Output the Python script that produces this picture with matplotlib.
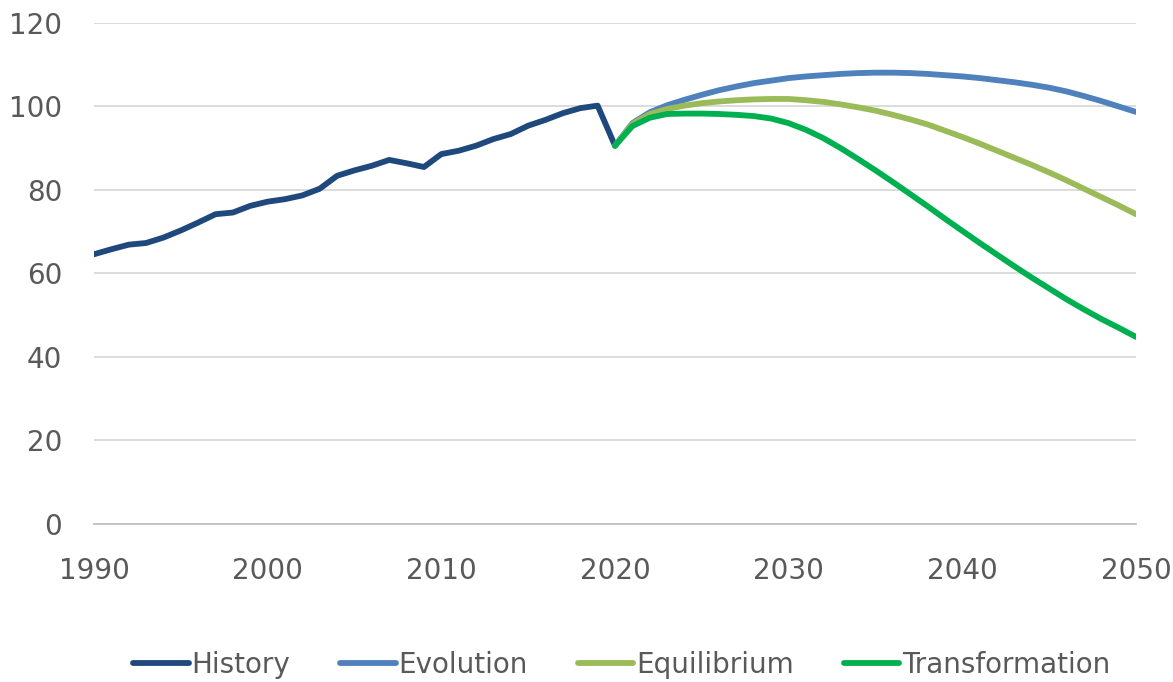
import numpy as np
import matplotlib
matplotlib.use('Agg')
import matplotlib.pyplot as plt

# History 1990-2020
hist_years = list(range(1990, 2021))
history = [64.6, 65.8, 66.9, 67.3, 68.6, 70.3, 72.2, 74.2, 74.6, 76.2,
           77.2, 77.8, 78.7, 80.3, 83.4, 84.7, 85.8, 87.2, 86.4, 85.5,
           88.6, 89.4, 90.6, 92.2, 93.4, 95.4, 96.8, 98.4, 99.6, 100.2,
           90.6]

# Scenarios 2020-2050
scen_years = list(range(2020, 2051))
evolution = [90.6, 96.0, 98.6, 100.3, 101.6, 102.8, 103.9, 104.8, 105.6, 106.2,
             106.8, 107.2, 107.5, 107.8, 108.0, 108.1, 108.1, 108.0, 107.8, 107.5,
             107.2, 106.8, 106.3, 105.8, 105.2, 104.5, 103.6, 102.5, 101.3, 100.0,
             98.7]
equilibrium = [90.6, 95.8, 98.2, 99.4, 100.2, 100.8, 101.2, 101.5, 101.7, 101.8,
               101.8, 101.5, 101.1, 100.5, 99.8, 99.0, 98.0, 96.9, 95.7, 94.2,
               92.7, 91.1, 89.4, 87.7, 86.0, 84.2, 82.3, 80.3, 78.3, 76.3,
               74.2]
transformation = [90.6, 95.3, 97.3, 98.2, 98.3, 98.3, 98.2, 98.0, 97.7, 97.1,
                  96.0, 94.4, 92.4, 90.0, 87.4, 84.7, 81.9, 79.0, 76.1, 73.1,
                  70.2, 67.3, 64.5, 61.7, 59.0, 56.4, 53.8, 51.4, 49.1, 47.0,
                  44.8]

colors = {'History': '#1F497D', 'Evolution': '#4F81BD',
          'Equilibrium': '#9BBB59', 'Transformation': '#00B050'}

fig = plt.figure(figsize=(11.73, 6.82), dpi=100)
ax = fig.add_axes([0.0801, 0.2317, 0.8884, 0.7346])

lw = 4.2
ax.plot(hist_years, history, color=colors['History'], lw=lw, label='History', solid_capstyle='round')
ax.plot(scen_years, evolution, color=colors['Evolution'], lw=lw, label='Evolution', solid_capstyle='round')
ax.plot(scen_years, equilibrium, color=colors['Equilibrium'], lw=lw, label='Equilibrium', solid_capstyle='round')
ax.plot(scen_years, transformation, color=colors['Transformation'], lw=lw, label='Transformation', solid_capstyle='round')

ax.set_xlim(1990, 2050)
ax.set_ylim(0, 120)
ax.set_xticks(range(1990, 2051, 10))
ax.set_yticks(range(0, 121, 20))
ax.yaxis.grid(True, color='#D9D9D9', lw=1.3)
ax.set_axisbelow(True)
for s in ['top', 'right', 'left']:
    ax.spines[s].set_visible(False)
ax.spines['bottom'].set_color('#BFBFBF')
ax.spines['bottom'].set_linewidth(1.3)
ax.tick_params(axis='both', length=0, labelsize=20, labelcolor='#595959')
ax.tick_params(axis='x', pad=24)
ax.tick_params(axis='y', pad=23)

fig.legend(loc='center', bbox_to_anchor=(0.53, 0.025), ncol=4, frameon=False,
           fontsize=20, labelcolor='#595959', handlelength=2.0, handletextpad=0.1,
           columnspacing=1.8)

fig.savefig('out.png', dpi=100)
